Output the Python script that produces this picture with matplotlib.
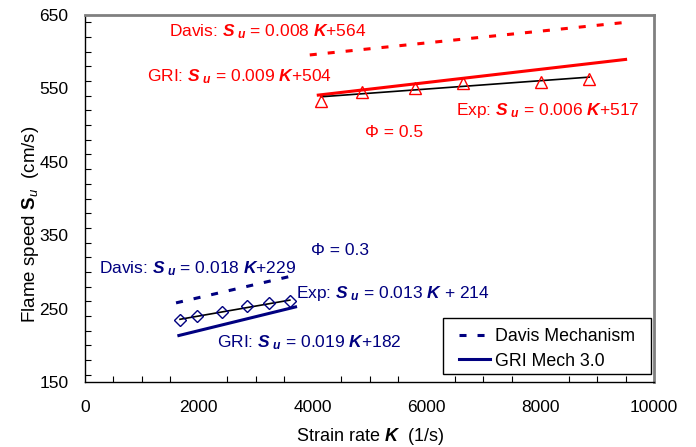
import numpy as np
import matplotlib
matplotlib.use('Agg')
import matplotlib.pyplot as plt
from matplotlib.ticker import MultipleLocator
from matplotlib.patches import Rectangle

plt.rcParams['font.family'] = ['Liberation Sans', 'DejaVu Sans']
plt.rcParams['mathtext.fontset'] = 'custom'
plt.rcParams['mathtext.rm'] = 'Liberation Sans'
plt.rcParams['mathtext.it'] = 'Liberation Sans:italic'
plt.rcParams['mathtext.bf'] = 'Liberation Sans:bold'
plt.rcParams['mathtext.bfit'] = 'Liberation Sans:italic:bold'

RED = '#ff0000'
NAVY = '#000080'

# phi = 0.5 experiments
k_05 = [4150, 4870, 5800, 6640, 8010, 8860]
su_05 = [533, 545, 551, 557, 559, 563]
# phi = 0.3 experiments
k_03 = [1670, 1970, 2410, 2850, 3230, 3600]
su_03 = [234, 240, 246, 253, 257, 260]

# mechanism fits: slope, intercept, K range
davis_05 = (0.008, 564, [3950, 9500])
gri_05 = (0.009, 504, [4100, 9500])
davis_03 = (0.018, 229, [1600, 3700])
gri_03 = (0.019, 182, [1650, 3700])

fig = plt.figure(figsize=(6.96, 4.47), dpi=100)
ax = fig.add_axes([0.1221, 0.1454, 0.8176, 0.8210])

def fit_line(slope, icpt, rng):
    xx = np.array(rng, dtype=float)
    return xx, slope * xx + icpt

dash = (0, (2.3, 3.6))

x, y = fit_line(*davis_05)
ax.plot(x, y, color=RED, lw=2.2, linestyle=dash)
x, y = fit_line(*gri_05)
ax.plot(x, y, color=RED, lw=2.2)
x, y = fit_line(*davis_03)
ax.plot(x, y, color=NAVY, lw=2.2, linestyle=dash, label='Davis Mechanism')
x, y = fit_line(*gri_03)
ax.plot(x, y, color=NAVY, lw=2.2, label='GRI Mech 3.0')

# experimental regression lines
for kk, ss in [(k_05, su_05), (k_03, su_03)]:
    p = np.polyfit(kk, ss, 1)
    xx = np.array([kk[0], kk[-1]], dtype=float)
    ax.plot(xx, np.polyval(p, xx), color='black', lw=1.2)

ax.plot(k_05, su_05, linestyle='none', marker='^', ms=8.5, mfc='none',
        mec=RED, mew=1.0)
ax.plot(k_03, su_03, linestyle='none', marker='D', ms=6.5, mfc='none',
        mec=NAVY, mew=1.0)

SU = r'$\mathbfit{S}_{\ \mathbfit{u}}$'
KK = r'$\mathbfit{K}$'
fs = 12.5
ax.text(1480, 627, 'Davis: ' + SU + ' = 0.008 ' + KK + '+564', color=RED, fontsize=fs, va='center')
ax.text(1090, 566, 'GRI: ' + SU + ' = 0.009 ' + KK + '+504', color=RED, fontsize=fs, va='center')
ax.text(6520, 520, 'Exp: ' + SU + ' = 0.006 ' + KK + '+517', color=RED, fontsize=fs, va='center')
ax.text(4920, 490, '\u03a6 = 0.5', color=RED, fontsize=fs, va='center')
ax.text(3970, 329, '\u03a6 = 0.3', color=NAVY, fontsize=fs, va='center')
ax.text(250, 304, 'Davis: ' + SU + ' = 0.018 ' + KK + '+229', color=NAVY, fontsize=fs, va='center')
ax.text(3710, 271, 'Exp: ' + SU + ' = 0.013 ' + KK + ' + 214', color=NAVY, fontsize=fs, va='center')
ax.text(2320, 203, 'GRI: ' + SU + ' = 0.019 ' + KK + '+182', color=NAVY, fontsize=fs, va='center')

ax.set_xlim(0, 10000)
ax.set_ylim(150, 650)
ax.xaxis.set_major_locator(MultipleLocator(2000))
ax.xaxis.set_minor_locator(MultipleLocator(500))
ax.yaxis.set_minor_locator(MultipleLocator(20))
ax.set_yticks([150, 250, 350, 450, 550, 650])
ax.tick_params(which='both', direction='in', length=4, width=0.8, labelsize=12.5)
ax.tick_params(axis='x', which='major', length=0, pad=13)
ax.tick_params(axis='y', which='major', length=0, pad=12)

for s in ['top', 'right']:
    ax.spines[s].set_color('#808080')
    ax.spines[s].set_linewidth(2)
for s in ['left', 'bottom']:
    ax.spines[s].set_color('black')
    ax.spines[s].set_linewidth(1)

ax.set_xlabel('Strain rate ' + KK + '  (1/s)', fontsize=13, labelpad=8)
ax.set_ylabel(r'Flame speed $\mathbf{S}_{\mathit{u}}$  (cm/s)', fontsize=13.5)
ax.yaxis.set_label_coords(-0.078, 0.43)

# legend box drawn separately so the padding matches the original
ax.add_patch(Rectangle((0.629, 0.022), 0.366, 0.152, transform=ax.transAxes,
                       facecolor='white', edgecolor='black', lw=1, zorder=4.9))
leg = ax.legend(loc='center left', bbox_to_anchor=(0.657, 0.090), borderaxespad=0,
                frameon=False, fontsize=12.8, handlelength=1.75, handletextpad=0.3,
                borderpad=0, labelspacing=0.4)

fig.savefig('out.png', dpi=100)
